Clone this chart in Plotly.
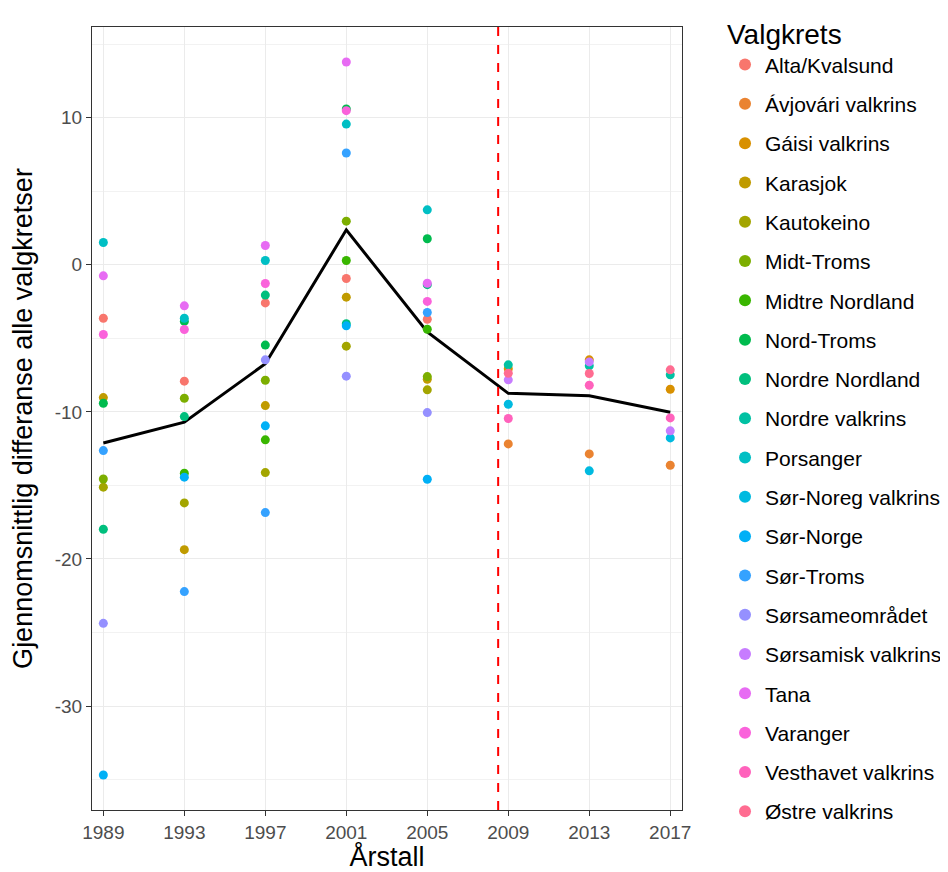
import pandas as pd
import plotly.graph_objects as go

# election years
years_old = [1989, 1993, 1997, 2001, 2005]
years_new = [2009, 2013, 2017]

# average difference per district, None = no point
alta_kvalsund = [-3.63, -7.91, -2.59, -0.93, -3.70]
karasjok = [-9.03, -19.37, -9.57, -2.20, -7.78]
kautokeino = [-15.12, -16.19, -14.13, -5.53, -8.50]
midt_troms = [-14.56, -9.07, -7.85, 2.97, -7.60]
midtre_nordland = [None, -14.17, -11.90, 0.29, -4.38]
nord_troms = [-9.41, -3.85, -5.46, 10.60, 1.77]
nordre_nordland = [-17.98, -10.32, -2.06, -4.01, -1.35]
porsanger = [1.52, -3.63, 0.29, 9.57, 3.74]
sor_norge = [-34.69, -14.44, -10.95, -4.15, -14.58]
sor_troms = [-12.63, -22.22, -16.85, 7.60, -3.24]
sorsameomradet = [-24.38, None, -6.46, -7.57, -10.05]
tana = [-0.75, -2.79, 1.31, 13.79, -1.25]
varanger = [-4.74, -4.40, -1.27, 10.48, -2.49]

avjovari = [-12.18, -12.86, -13.63]
gaisi = [-7.07, -6.46, -8.46]
nordre_valkrins = [-6.80, -6.87, -7.48]
sor_noreg = [-9.48, -14.01, -11.77]
sorsamisk = [-7.82, -6.60, -11.29]
vesthavet = [-10.45, -8.19, -10.41]
ostre = [-7.37, -7.39, -7.14]

districts = [
    ("Alta/Kvalsund", years_old, alta_kvalsund),
    ("Ávjovári valkrins", years_new, avjovari),
    ("Gáisi valkrins", years_new, gaisi),
    ("Karasjok", years_old, karasjok),
    ("Kautokeino", years_old, kautokeino),
    ("Midt-Troms", years_old, midt_troms),
    ("Midtre Nordland", years_old, midtre_nordland),
    ("Nord-Troms", years_old, nord_troms),
    ("Nordre Nordland", years_old, nordre_nordland),
    ("Nordre valkrins", years_new, nordre_valkrins),
    ("Porsanger", years_old, porsanger),
    ("Sør-Noreg valkrins", years_new, sor_noreg),
    ("Sør-Norge", years_old, sor_norge),
    ("Sør-Troms", years_old, sor_troms),
    ("Sørsameområdet", years_old, sorsameomradet),
    ("Sørsamisk valkrins", years_new, sorsamisk),
    ("Tana", years_old, tana),
    ("Varanger", years_old, varanger),
    ("Vesthavet valkrins", years_new, vesthavet),
    ("Østre valkrins", years_new, ostre),
]

# ggplot default hue palette for 20 groups
colors = ["#F8766D", "#EA8331", "#D89000", "#C09B00", "#A3A500", "#7CAE00",
          "#39B600", "#00BB4E", "#00BF7D", "#00C1A3", "#00BFC4", "#00BAE0",
          "#00B0F6", "#35A2FF", "#9590FF", "#C77CFF", "#E76BF3", "#FA62DB",
          "#FF62BC", "#FF6C91"]

y_ticks = [10, 0, -10, -20, -30]
x_ticks = years_old + years_new
reform_year = 2008.5

rows = []
for name, yrs, vals in districts:
    for yr, v in zip(yrs, vals):
        if v is not None:
            rows.append({"valgkrets": name, "aar": yr, "diff": v})
df = pd.DataFrame(rows)
mean_df = df.groupby("aar", as_index=False)["diff"].mean()

font = "Arial, Liberation Sans, sans-serif"

fig = go.Figure()

fig.add_trace(go.Scatter(x=mean_df["aar"], y=mean_df["diff"], mode="lines",
                         line=dict(color="black", width=3),
                         showlegend=False, hoverinfo="skip"))

for (name, yrs, vals), col in zip(districts, colors):
    sub = df[df["valgkrets"] == name]
    fig.add_trace(go.Scatter(x=sub["aar"], y=sub["diff"], mode="markers", name=name,
                             legendgroup=name,
                             marker=dict(color=col, size=9)))

fig.add_vline(x=reform_year, line=dict(color="#FF0000", width=2, dash="dash"))

# page body has an 8px margin, so the figure is 8px smaller than the window
fig.update_layout(
    width=940, height=864,
    margin=dict(l=84, r=266, t=19, b=62, autoexpand=False),
    plot_bgcolor="white", paper_bgcolor="white",
    font=dict(family=font, color="black"),
    legend=dict(
        title=dict(text="Valgkrets", font=dict(size=28, color="black")),
        font=dict(size=21, color="black"),
        xref="paper", x=1.0729, xanchor="left",
        yref="container", y=1.02, yanchor="top",
        maxheight=900,
        tracegroupgap=9, itemsizing="constant",
        bgcolor="rgba(0,0,0,0)",
    ),
    xaxis=dict(
        title=dict(text="Årstall", font=dict(size=27, color="black"), standoff=4),
        range=[1988.44, 2017.58], tickvals=x_ticks,
        ticktext=[str(v) for v in x_ticks],
        tickfont=dict(size=19, color="#4D4D4D"),
        showgrid=True, gridcolor="#EBEBEB", gridwidth=1.2,
        showline=True, linecolor="#333333", linewidth=1, mirror=True,
        ticks="outside", ticklen=5, tickcolor="#333333", zeroline=False,
    ),
    yaxis=dict(
        title=dict(text="Gjennomsnittlig differanse alle valgkretser",
                   font=dict(size=27, color="black"), standoff=16),
        range=[-37.07, 16.17], tickvals=y_ticks,
        ticktext=[str(v) for v in y_ticks],
        tickfont=dict(size=19, color="#4D4D4D"),
        showgrid=True, gridcolor="#EBEBEB", gridwidth=1.2,
        minor=dict(tickvals=[15, 5, -5, -15, -25, -35], showgrid=True,
                   gridcolor="#F2F2F2", gridwidth=1, ticks=""),
        showline=True, linecolor="#333333", linewidth=1, mirror=True,
        ticks="outside", ticklen=5, tickcolor="#333333", zeroline=False,
    ),
)

fig.write_html("out.html")
